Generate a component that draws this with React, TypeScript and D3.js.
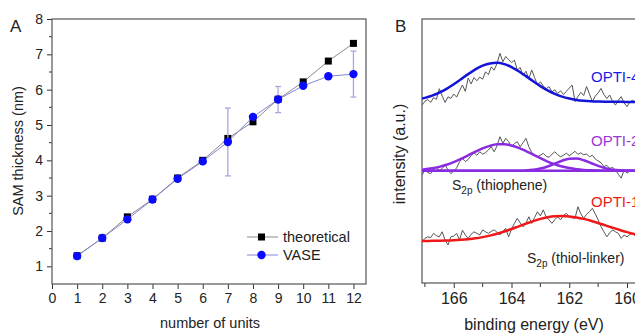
import React, { useEffect, useRef } from 'react';
import * as d3 from 'd3';

// ---- panel A: SAM thickness vs number of units
const units = [1, 2, 3, 4, 5, 6, 7, 8, 9, 10, 11, 12];
const theoretical = [1.3, 1.8, 2.4, 2.9, 3.5, 4.0, 4.62, 5.09, 5.73, 6.22, 6.81, 7.31];
const vase = [1.29, 1.8, 2.33, 2.89, 3.48, 3.97, 4.52, 5.23, 5.72, 6.11, 6.38, 6.44];
const vaseErr = [0, 0, 0, 0, 0, 0, 0.96, 0, 0.37, 0, 0, 0.65];
const xTicksA = [0, 1, 2, 3, 4, 5, 6, 7, 8, 9, 10, 11, 12];
const yTicksA = [1, 2, 3, 4, 5, 6, 7, 8];
const yMinorA = [1.5, 2.5, 3.5, 4.5, 5.5, 6.5, 7.5];

// ---- panel B: S2p spectra (raw every 0.1 eV from 167.1 eV)
const rawStart = 167.1;
const rawStep = 0.1;
const rawOpti4 = [67.4, 68.8, 69.5, 68.4, 70.2, 69.6, 73.6, 70.8, 68.4, 70.5, 69.9, 71.6, 70.4, 72.8, 75.0, 72.6, 77.6, 75.4, 77.8, 76.6, 78.0, 77.2, 80.0, 78.9, 81.9, 80.6, 83.2, 87.0, 83.8, 85.8, 84.6, 83.5, 84.4, 80.7, 81.6, 78.6, 80.2, 77.4, 80.7, 77.8, 75.0, 76.2, 74.6, 73.6, 74.4, 72.4, 73.2, 71.8, 72.8, 71.4, 72.6, 73.8, 75.0, 68.7, 70.6, 72.2, 71.0, 74.4, 71.6, 68.7, 70.8, 72.0, 73.7, 71.4, 69.9, 71.2, 68.8, 67.4, 69.2, 70.6, 68.2, 66.8, 68.6, 69.3, 68.0, 69.0];
const rawOpti2 = [40.9, 42.8, 41.9, 41.4, 43.2, 44.0, 42.6, 43.4, 44.7, 42.8, 41.4, 42.4, 43.6, 45.9, 47.2, 46.0, 46.8, 48.2, 49.3, 48.4, 49.7, 48.8, 49.4, 50.4, 51.6, 49.7, 52.0, 55.4, 52.9, 54.8, 53.6, 51.6, 52.8, 53.5, 51.6, 53.2, 54.8, 51.6, 49.4, 48.5, 47.8, 48.4, 49.1, 48.0, 47.6, 48.8, 49.7, 48.6, 47.8, 48.4, 49.2, 48.2, 49.0, 49.9, 48.7, 49.3, 48.6, 48.9, 47.8, 48.4, 47.0, 46.2, 45.6, 44.1, 44.6, 43.4, 43.8, 42.8, 41.2, 39.7, 42.8, 41.6, 42.4, 42.8, 41.8, 42.6];
const rawOpti1 = [15.6, 16.9, 17.5, 17.2, 18.8, 17.9, 17.5, 19.4, 16.2, 14.4, 17.5, 17.8, 18.8, 16.3, 20.0, 18.2, 16.9, 18.4, 19.4, 18.8, 18.2, 20.1, 19.4, 18.8, 19.6, 20.1, 19.2, 18.2, 19.6, 20.7, 17.5, 20.4, 22.6, 24.5, 22.8, 21.3, 22.6, 25.1, 22.6, 24.8, 27.0, 25.4, 27.7, 25.0, 23.9, 22.6, 24.0, 25.1, 23.9, 25.6, 26.4, 25.1, 24.7, 24.5, 28.9, 26.2, 24.5, 26.0, 27.0, 28.3, 26.2, 23.9, 21.4, 19.4, 17.5, 19.0, 20.1, 19.4, 18.8, 16.9, 18.2, 17.5, 18.4, 18.8, 17.6, 18.4];

// fitted components
const fitEnergy = [167.25, 167, 166.75, 166.5, 166.25, 166, 165.75, 165.5, 165.25, 165, 164.75, 164.5, 164.25, 164, 163.75, 163.5, 163.25, 163, 162.75, 162.5, 162.25, 162, 161.75, 161.5, 161.25, 161, 160.75, 160.5, 160.25, 160, 159.75, 159.5];
const fitOpti4 = [69.54, 70.13, 70.97, 72.12, 73.56, 75.28, 77.19, 79.12, 80.9, 82.31, 83.18, 83.39, 82.91, 81.8, 80.22, 78.36, 76.41, 74.57, 72.95, 71.62, 70.6, 69.87, 69.36, 69.04, 68.84, 68.73, 68.66, 68.63, 68.61, 68.6, 68.6, 68.6];
const fitOpti2a = [42.81, 43.05, 43.44, 44.0, 44.77, 45.78, 46.99, 48.35, 49.73, 50.98, 51.95, 52.51, 52.56, 52.1, 51.2, 49.99, 48.63, 47.26, 46.01, 44.96, 44.13, 43.53, 43.12, 42.85, 42.69, 42.6, 42.55, 42.52, 42.51, 42.5, 42.5, 42.5];
const fitOpti2b = [42.5, 42.5, 42.5, 42.5, 42.5, 42.5, 42.5, 42.5, 42.5, 42.5, 42.5, 42.5, 42.5, 42.51, 42.54, 42.64, 42.87, 43.34, 44.14, 45.22, 46.32, 47.06, 47.14, 46.51, 45.45, 44.34, 43.48, 42.94, 42.67, 42.55, 42.51, 42.5];
const fitOpti1 = [15.92, 15.93, 15.96, 16.01, 16.08, 16.19, 16.36, 16.6, 16.93, 17.38, 17.95, 18.66, 19.5, 20.44, 21.46, 22.48, 23.45, 24.28, 24.92, 25.3, 25.4, 25.23, 24.85, 24.28, 23.56, 22.73, 21.84, 20.95, 20.08, 19.28, 18.57, 17.95];
const baselineOpti2 = 42.5;
const xTicksB = [166, 164, 162, 160];
const xMinorB = [167, 165, 163, 161];

const FONT = 'Arial, "Liberation Sans", sans-serif';

const Chart = () => {
  const svgRef = useRef<SVGSVGElement>(null);

  useEffect(() => {
    if (!svgRef.current) return;
    const svg = d3.select(svgRef.current);
    svg.selectAll('*').remove();
    svg.attr('font-family', FONT);

    // ================= panel A =================
    const xA = d3.scaleLinear().domain([0, 12.5]).range([52, 366]);
    const yA = d3.scaleLinear().domain([0.5, 8]).range([284, 19]);
    const gA = svg.append('g');

    const axB = gA.append('g')
      .attr('transform', `translate(0,${yA(0.5)})`)
      .call(d3.axisBottom(xA).tickValues(xTicksA).tickSize(5).tickPadding(4).tickFormat(d3.format('d')));
    const axL = gA.append('g')
      .attr('transform', `translate(${xA(0)},0)`)
      .call(d3.axisLeft(yA).tickValues(yTicksA).tickSize(5).tickPadding(4).tickFormat(d3.format('d')));
    [axB, axL].forEach(ax => {
      ax.select('.domain').remove();
      ax.selectAll('line').attr('stroke', '#333');
      ax.selectAll('text').attr('font-size', 14).attr('fill', '#222').attr('font-family', FONT);
    });
    gA.selectAll('.minorA').data(yMinorA).enter().append('line')
      .attr('x1', xA(0) - 3).attr('x2', xA(0))
      .attr('y1', d => yA(d)).attr('y2', d => yA(d))
      .attr('stroke', '#333');

    gA.append('rect')
      .attr('x', xA(0)).attr('y', yA(8))
      .attr('width', xA(12.5) - xA(0)).attr('height', yA(0.5) - yA(8))
      .attr('fill', 'none').attr('stroke', '#555').attr('stroke-width', 1.2);

    const line = d3.line<number>().x((_, i) => xA(units[i])).y(d => yA(d));

    // theoretical
    gA.append('path').attr('d', line(theoretical)).attr('fill', 'none').attr('stroke', '#8a8a8a').attr('stroke-width', 1);
    gA.selectAll('.sq').data(theoretical).enter().append('rect')
      .attr('x', (_, i) => xA(units[i]) - 3.5).attr('y', d => yA(d) - 3.5)
      .attr('width', 7).attr('height', 7).attr('fill', '#000');

    // VASE error bars
    units.forEach((u, i) => {
      if (!vaseErr[i]) return;
      const x = xA(u);
      const y0 = yA(vase[i] - vaseErr[i]);
      const y1 = yA(vase[i] + vaseErr[i]);
      gA.append('line').attr('x1', x).attr('x2', x).attr('y1', y0).attr('y2', y1).attr('stroke', '#a8a8e0').attr('stroke-width', 1.3);
      [y0, y1].forEach(yy => gA.append('line').attr('x1', x - 3).attr('x2', x + 3).attr('y1', yy).attr('y2', yy).attr('stroke', '#a8a8e0').attr('stroke-width', 1.3));
    });
    gA.append('path').attr('d', line(vase)).attr('fill', 'none').attr('stroke', '#8585d8').attr('stroke-width', 1);
    gA.selectAll('.dot').data(vase).enter().append('circle')
      .attr('cx', (_, i) => xA(units[i])).attr('cy', d => yA(d)).attr('r', 4.2).attr('fill', '#0a0aff');

    // legend
    const lg = gA.append('g');
    lg.append('line').attr('x1', 247).attr('x2', 278).attr('y1', 237).attr('y2', 237).attr('stroke', '#8a8a8a');
    lg.append('rect').attr('x', 258).attr('y', 233.5).attr('width', 7).attr('height', 7).attr('fill', '#000');
    lg.append('text').attr('x', 283).attr('y', 242).attr('font-size', 14.5).attr('fill', '#222').text('theoretical');
    lg.append('line').attr('x1', 247).attr('x2', 278).attr('y1', 255).attr('y2', 255).attr('stroke', '#8585d8');
    lg.append('circle').attr('cx', 261.5).attr('cy', 255).attr('r', 4.2).attr('fill', '#0a0aff');
    lg.append('text').attr('x', 283).attr('y', 260).attr('font-size', 14.5).attr('fill', '#222').text('VASE');

    gA.append('text').attr('x', 210).attr('y', 328).attr('text-anchor', 'middle').attr('font-size', 14.5).attr('fill', '#222').text('number of units');
    gA.append('text').attr('transform', 'translate(23,151) rotate(-90)').attr('text-anchor', 'middle').attr('font-size', 14.5).attr('fill', '#222').text('SAM thickness (nm)');
    svg.append('text').attr('x', 10).attr('y', 32).attr('font-size', 17).attr('fill', '#222').text('A');

    // ================= panel B =================
    const xB = d3.scaleLinear().domain([167.1, 160]).range([422, 627]);
    const yB = d3.scaleLinear().domain([0, 100]).range([283, 19]);
    const gB = svg.append('g');

    svg.append('defs').append('clipPath').attr('id', 'clipB')
      .append('rect').attr('x', 422).attr('y', 19).attr('width', 240).attr('height', 264);

    const axBB = gB.append('g')
      .attr('transform', `translate(0,${yB(0)})`)
      .call(d3.axisBottom(xB).tickValues(xTicksB).tickSize(5).tickPadding(5).tickFormat(d3.format('d')));
    axBB.select('.domain').remove();
    axBB.selectAll('line').attr('stroke', '#333');
    axBB.selectAll('text').attr('font-size', 16).attr('fill', '#222').attr('font-family', FONT);
    gB.selectAll('.minorB').data(xMinorB).enter().append('line')
      .attr('x1', d => xB(d)).attr('x2', d => xB(d))
      .attr('y1', yB(0)).attr('y2', yB(0) + 4)
      .attr('stroke', '#333');

    gB.append('rect')
      .attr('x', 422).attr('y', 19).attr('width', 260).attr('height', 264)
      .attr('fill', 'none').attr('stroke', '#555').attr('stroke-width', 1.2);

    const plot = gB.append('g').attr('clip-path', 'url(#clipB)');
    const rawLine = d3.line<number>().x((_, i) => xB(rawStart - rawStep * i)).y(d => yB(d));
    const fitLine = d3.line<number>().x((_, i) => xB(fitEnergy[i])).y(d => yB(d)).curve(d3.curveMonotoneX);

    [rawOpti4, rawOpti2, rawOpti1].forEach(s => {
      plot.append('path').attr('d', rawLine(s)).attr('fill', 'none').attr('stroke', '#555').attr('stroke-width', 1);
    });
    plot.append('path').attr('d', fitLine(fitOpti4)).attr('fill', 'none').attr('stroke', '#1414d8').attr('stroke-width', 2.5);
    plot.append('line').attr('x1', 422).attr('x2', 640).attr('y1', yB(baselineOpti2)).attr('y2', yB(baselineOpti2))
      .attr('stroke', '#8a2be2').attr('stroke-width', 2.5);
    [fitOpti2a, fitOpti2b].forEach(s => {
      plot.append('path').attr('d', fitLine(s)).attr('fill', 'none').attr('stroke', '#8a2be2').attr('stroke-width', 2.5);
    });
    plot.append('path').attr('d', fitLine(fitOpti1)).attr('fill', 'none').attr('stroke', '#f01818').attr('stroke-width', 2.5);

    gB.append('text').attr('x', 591).attr('y', 82).attr('font-size', 15).attr('fill', '#1a1ae6').text('OPTI-4');
    gB.append('text').attr('x', 591).attr('y', 146).attr('font-size', 15).attr('fill', '#9a35d6').text('OPTI-2');
    gB.append('text').attr('x', 591).attr('y', 207).attr('font-size', 15).attr('fill', '#f01818').text('OPTI-1');

    const lab = (x: number, y: number, rest: string) => {
      const t = gB.append('text').attr('x', x).attr('y', y).attr('font-size', 14).attr('fill', '#222');
      t.append('tspan').text('S');
      t.append('tspan').attr('font-size', 10).attr('dy', 4).text('2p');
      t.append('tspan').attr('dy', -4).text(' ' + rest);
    };
    lab(452, 190, '(thiophene)');
    lab(527, 263, '(thiol-linker)');

    gB.append('text').attr('x', 534).attr('y', 330).attr('text-anchor', 'middle').attr('font-size', 16).attr('fill', '#222').text('binding energy (eV)');
    gB.append('text').attr('transform', 'translate(405,154) rotate(-90)').attr('text-anchor', 'middle').attr('font-size', 16).attr('fill', '#222').text('intensity (a.u.)');
    svg.append('text').attr('x', 395).attr('y', 32).attr('font-size', 17).attr('fill', '#222').text('B');
  }, []);

  return <svg ref={svgRef} width={635} height={333} style={{ display: 'block', background: '#fff' }} />;
};

export default function App() {
  return (
    <div>
      <style>{'body{margin:0;}'}</style>
      <Chart />
    </div>
  );
}
